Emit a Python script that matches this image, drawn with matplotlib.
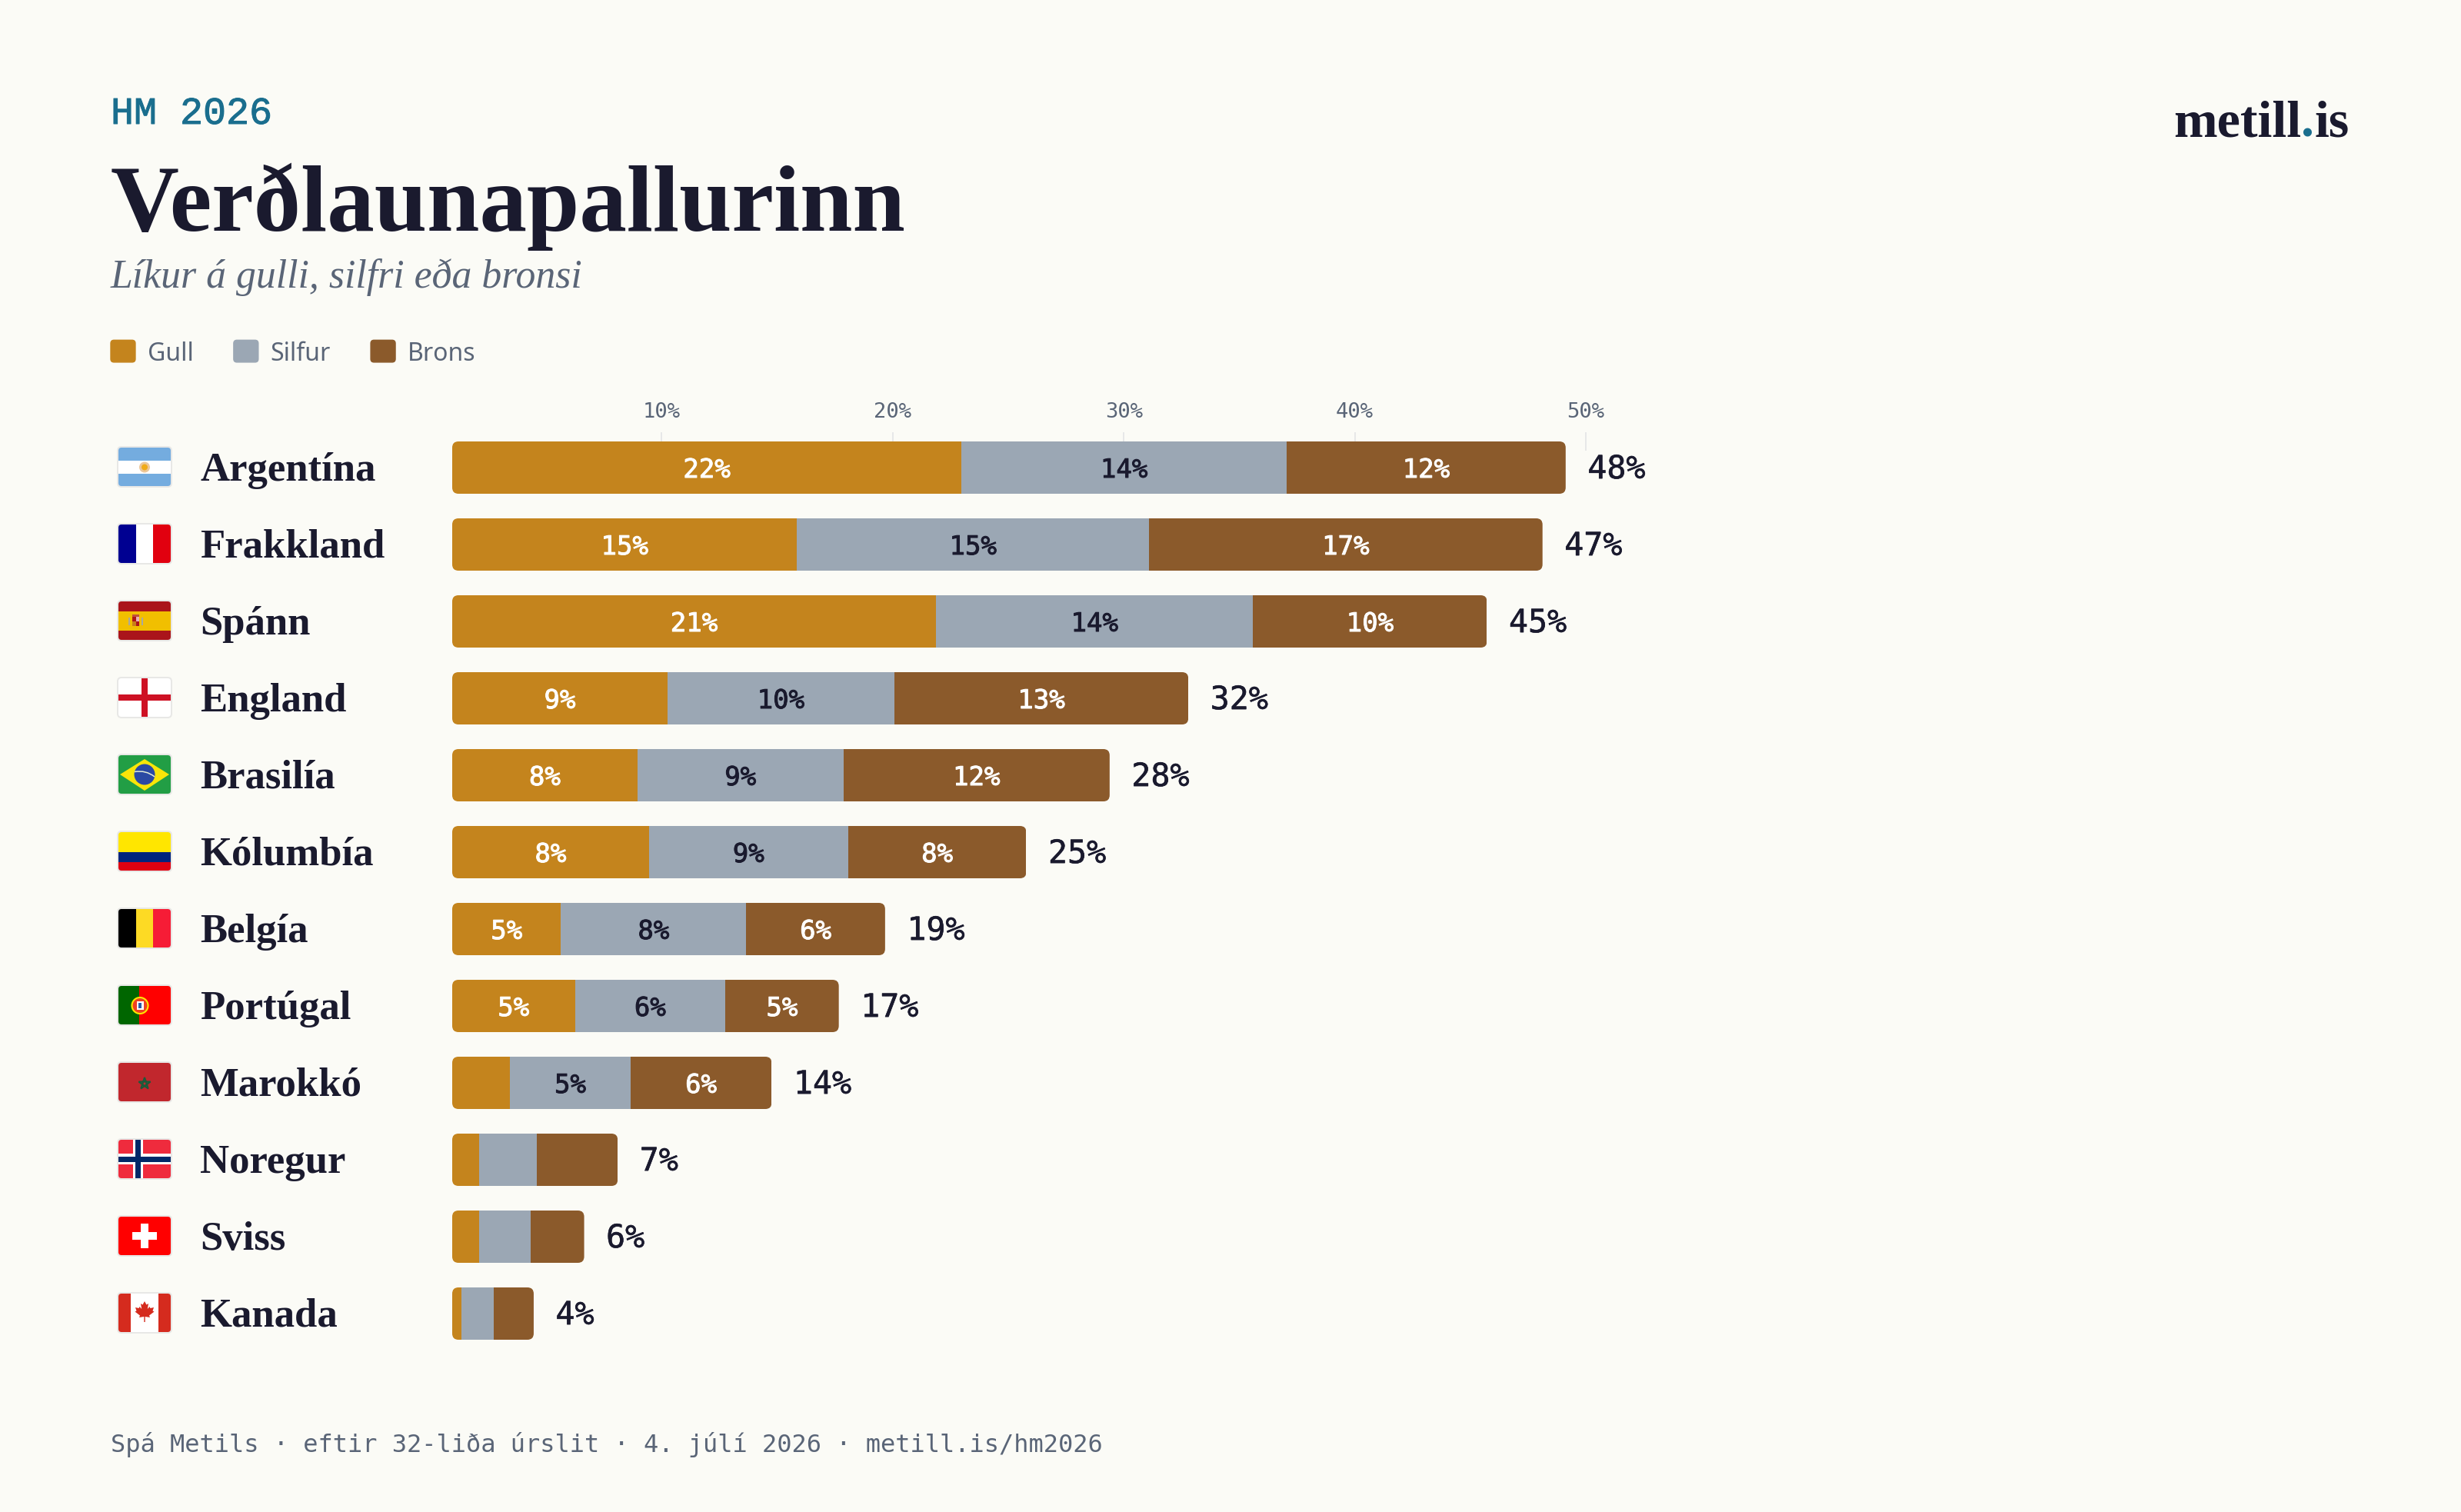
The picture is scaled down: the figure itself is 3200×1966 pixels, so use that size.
import numpy as np
import matplotlib
matplotlib.use('Agg')
import matplotlib.pyplot as plt
import matplotlib.patheffects as pe
from matplotlib.legend_handler import HandlerPatch
from matplotlib.patches import Circle, FancyBboxPatch, Patch, PathPatch, Polygon, Rectangle
from matplotlib.path import Path
from matplotlib.transforms import ScaledTranslation

W, H = 3200, 1966

countries = ['Argentína', 'Frakkland', 'Spánn', 'England', 'Brasilía', 'Kólumbía',
             'Belgía', 'Portúgal', 'Marokkó', 'Noregur', 'Sviss', 'Kanada']
flag_codes = ['ar', 'fr', 'es', 'en', 'br', 'co', 'be', 'pt', 'ma', 'no', 'ch', 'ca']
gold = [22.0, 14.9, 20.9, 9.3, 8.0, 8.5, 4.7, 5.3, 2.5, 1.15, 1.15, 0.4]
silver = [14.05, 15.2, 13.7, 9.8, 8.9, 8.6, 8.0, 6.5, 5.2, 2.5, 2.25, 1.4]
bronze = [12.05, 17.0, 10.1, 12.7, 11.5, 7.7, 6.0, 4.9, 6.1, 3.5, 2.3, 1.72]
axis_ticks = [10, 20, 30, 40, 50]
series_names = ['Gull', 'Silfur', 'Brons']

BG = '#fbfbf6'
DARK = '#1a1a2e'
SLATE = '#5a6577'
TEAL = '#1a6e8e'
GOLD = '#c4841d'
SILVER = '#9ba7b4'
BRONZE = '#8b5a2b'
GRID = '#e3e5e6'

SERIF = 'Liberation Serif'
MONO = 'DejaVu Sans Mono'


def px_rect(left, top, width, height):
    return [left / W, 1 - (top + height) / H, width / W, height / H]


def medium(colour, width=0.7):
    # the mono family has no medium weight, thicken the regular one a little
    return [pe.withStroke(linewidth=width, foreground=colour)]


fig = plt.figure(figsize=(W / 100, H / 100), dpi=100, facecolor=BG)

# page axes in pixels, for headings and flag frames
page = fig.add_axes([0, 0, 1, 1], zorder=0)
page.set_xlim(0, W)
page.set_ylim(H, 0)
page.axis('off')

page.text(144, 161, 'HM 2026', family='Liberation Mono', size=36, color=TEAL, va='baseline',
          path_effects=medium(TEAL))
page.text(144, 300, 'Verðlaunapallurinn', family=SERIF, weight='bold', size=88.6, color=DARK, va='baseline')
page.text(144, 374, 'Líkur á gulli, silfri eða bronsi', family=SERIF, style='italic', size=37.3,
          color=SLATE, va='baseline')
page.text(144, 1888, 'Spá Metils · eftir 32-liða úrslit · 4. júlí 2026 · metill.is/hm2026',
          family=MONO, size=23, color=SLATE, va='baseline')

# logo, the dot has its own colour
logo = page.text(2826, 177, 'metill', family=SERIF, weight='bold', size=49, color=DARK, va='baseline')
dot = page.annotate('.', xy=(1, 0), xycoords=logo, family=SERIF, weight='bold', size=49, color=TEAL, va='bottom')
page.annotate('is', xy=(1, 0), xycoords=dot, family=SERIF, weight='bold', size=49, color=DARK, va='bottom')


def round_handle(legend, orig_handle, xdescent, ydescent, width, height, fontsize):
    return FancyBboxPatch((0, -1.2), width, height, boxstyle='round,pad=0,rounding_size=3')


fig.legend(handles=[Patch(color=c) for c in (GOLD, SILVER, BRONZE)], labels=series_names,
           handler_map={Patch: HandlerPatch(patch_func=round_handle)},
           loc='upper left', bbox_to_anchor=(144 / W, 1 - 444 / H), ncol=3, frameon=False,
           prop={'family': 'Noto Sans', 'size': 23}, labelcolor=SLATE,
           handlelength=1, handleheight=1, handletextpad=0.5, columnspacing=1.63,
           borderpad=0, borderaxespad=0)

# percent scale above the bars
scale = fig.add_axes(px_rect(560, 562, 1700, 24), zorder=1)
scale.set_xlim(0, 1700 / 30.04)
scale.patch.set_visible(False)
for s in scale.spines.values():
    s.set_visible(False)
scale.set_yticks([])
scale.xaxis.tick_top()
scale.set_xticks(axis_ticks)
scale.set_xticklabels([f'{t}%' for t in axis_ticks], family=MONO, size=19.5, color=SLATE)
scale.tick_params(axis='x', direction='in', length=17.3, width=1.2, color=GRID, pad=9)

# stacked bars
ax = fig.add_axes(px_rect(588, 558, 2400, 1200), zorder=2)
ax.set_xlim(0, 2400 / 30.1)
ax.set_ylim(11.5, -0.5)
ax.patch.set_visible(False)
for s in ax.spines.values():
    s.set_visible(False)
ax.set_xticks([])

rows = np.arange(len(countries))
gold_v = np.array(gold)
silver_v = np.array(silver)
bronze_v = np.array(bronze)
totals = gold_v + silver_v + bronze_v
bar_height = 0.68

outlines = [FancyBboxPatch((0, r - bar_height / 2), t, bar_height,
                           boxstyle='round,pad=0,rounding_size=0.27',
                           mutation_aspect=30.1 / 100, transform=ax.transData)
            for r, t in zip(rows, totals)]

lefts = [np.zeros(len(rows)), gold_v, gold_v + silver_v]
for vals, left, col, txt in zip((gold_v, silver_v, bronze_v), lefts, (GOLD, SILVER, BRONZE),
                                ('white', DARK, 'white')):
    bars = ax.barh(rows, vals, left=left, height=bar_height, color=col, linewidth=0)
    for rect, outline in zip(bars, outlines):
        rect.set_clip_path(outline)
    seg_labels = ax.bar_label(bars, labels=[f'{v:.0f}%' if v >= 4 else '' for v in vals],
                              label_type='center', family=MONO, size=24.5, color=txt,
                              path_effects=medium(txt))
    for lab in seg_labels:
        lab.set_verticalalignment('center_baseline')

for r, t in zip(rows, totals):
    ax.annotate(f'{t:.0f}%', (t, r), xytext=(20.5, -1.5), textcoords='offset points',
                family=MONO, size=30, color=DARK, va='center', path_effects=medium(DARK, 0.4))

ax.set_yticks(rows)
ax.set_yticklabels(countries, family=SERIF, weight='bold', size=38, color=DARK, ha='left')
ax.tick_params(axis='y', length=0, pad=236)
for lab in ax.get_yticklabels():
    lab.set_transform(lab.get_transform() + ScaledTranslation(0, 2 / 100, fig.dpi_scale_trans))


# flags, each drawn on a 68 by 50 axes
def hbands(fl, colours, weights):
    y = 0
    for c, w in zip(colours, weights):
        fl.add_patch(Rectangle((0, y), 68, w, color=c, lw=0))
        y += w


def vbands(fl, colours, weights):
    x = 0
    for c, w in zip(colours, weights):
        fl.add_patch(Rectangle((x, 0), w, 50, color=c, lw=0))
        x += w


def flag_ar(fl):
    hbands(fl, ['#74acdf', 'white', '#74acdf'], [16.5, 17, 16.5])
    fl.add_patch(Circle((34, 25.5), 7, color='#ecc79a', lw=0))
    fl.add_patch(Circle((34, 25.5), 4, color='#f0ab1a', lw=0))


def flag_es(fl):
    hbands(fl, ['#aa151b', '#f1bf00', '#aa151b'], [12.5, 25, 12.5])
    fl.add_patch(Rectangle((13, 21), 2, 10, color='#a8a8a0', lw=0))
    fl.add_patch(Rectangle((30, 21), 2, 10, color='#a8a8a0', lw=0))
    fl.add_patch(Rectangle((18, 20), 5, 6, color='#ad1519', lw=0))
    fl.add_patch(Rectangle((23, 20), 4, 6, color='#e8b0b8', lw=0))
    fl.add_patch(Rectangle((18, 26), 5, 6, color='#c8801a', lw=0))
    fl.add_patch(Rectangle((23, 26), 4, 6, color='#ad1519', lw=0))
    fl.add_patch(Rectangle((18, 16.5), 9, 3, color='#c0503a', lw=0))


def flag_en(fl):
    fl.add_patch(Rectangle((0, 0), 68, 50, color='white', lw=0))
    fl.add_patch(Rectangle((30, 0), 8, 50, color='#ce1124', lw=0))
    fl.add_patch(Rectangle((0, 21), 68, 8, color='#ce1124', lw=0))


def flag_br(fl):
    fl.add_patch(Rectangle((0, 0), 68, 50, color='#229e45', lw=0))
    fl.add_patch(Polygon([(2, 25), (34, 5), (66, 25), (34, 46)], color='#f8e509', lw=0))
    fl.add_patch(Circle((34, 25), 13.5, color='#2b49a3', lw=0))
    fl.add_patch(PathPatch(Path([(21, 21.5), (36, 19), (47, 28)],
                                [Path.MOVETO, Path.CURVE3, Path.CURVE3]),
                           fc='none', ec='#e3ecd8', lw=1.1))


def flag_pt(fl):
    vbands(fl, ['#006600', '#ff0000'], [27.2, 40.8])
    fl.add_patch(Circle((28, 25.5), 10.5, fc='#f04020', ec='#ffe600', lw=1.5))
    fl.add_patch(Rectangle((23.5, 20), 9, 11, color='white', lw=0))
    fl.add_patch(Rectangle((26, 22), 4, 7, color='#2a5ba8', lw=0))


def flag_ma(fl):
    fl.add_patch(Rectangle((0, 0), 68, 50, color='#c1272d', lw=0))
    ang = np.radians(-90 + 144 * np.arange(5))
    pts = np.column_stack([34 + 8 * np.cos(ang), 27 + 8 * np.sin(ang)])
    fl.add_patch(Polygon(pts, closed=True, fill=False, ec='#1c5a3a', lw=1.5))


def flag_no(fl):
    fl.add_patch(Rectangle((0, 0), 68, 50, color='#ef2b3d', lw=0))
    fl.add_patch(Rectangle((18.7, 0), 13.3, 50, color='white', lw=0))
    fl.add_patch(Rectangle((0, 18), 68, 14, color='white', lw=0))
    fl.add_patch(Rectangle((22, 0), 7, 50, color='#002868', lw=0))
    fl.add_patch(Rectangle((0, 22), 68, 6.5, color='#002868', lw=0))


def flag_ch(fl):
    fl.add_patch(Rectangle((0, 0), 68, 50, color='#ff0000', lw=0))
    fl.add_patch(Rectangle((29, 9), 10, 32, color='white', lw=0))
    fl.add_patch(Rectangle((18, 20), 32, 10, color='white', lw=0))


def flag_ca(fl):
    vbands(fl, ['#d52b1e', 'white', '#d52b1e'], [16, 36, 16])
    half = [(0, -14), (-2.5, -9.5), (-5, -11), (-3.8, -4), (-6.5, -7), (-7.5, -5), (-12, -6),
            (-10.5, -1.5), (-12.5, -0.5), (-6, 4.5), (-7, 7), (-0.7, 6), (-0.7, 13)]
    leaf = half + [(-x, y) for x, y in reversed(half[1:])]
    fl.add_patch(Polygon([(34 + x, 24 + y) for x, y in leaf], color='#d52b1e', lw=0))


flag_funcs = {
    'ar': flag_ar,
    'fr': lambda fl: vbands(fl, ['#000091', 'white', '#e1000f'], [22.7, 22.6, 22.7]),
    'es': flag_es,
    'en': flag_en,
    'br': flag_br,
    'co': lambda fl: hbands(fl, ['#ffe600', '#00247d', '#de0011'], [26, 12.5, 11.5]),
    'be': lambda fl: vbands(fl, ['#000000', '#fdda24', '#f61c36'], [22.7, 22.6, 22.7]),
    'pt': flag_pt,
    'ma': flag_ma,
    'no': flag_no,
    'ch': flag_ch,
    'ca': flag_ca,
}

for i, code in enumerate(flag_codes):
    top = 582 + 100 * i
    page.add_patch(FancyBboxPatch((152, top - 2), 72, 54, boxstyle='round,pad=0,rounding_size=6',
                                  fc='#e8e8e6', ec='none'))
    fl = fig.add_axes(px_rect(154, top, 68, 50), zorder=1)
    fl.set_xlim(0, 68)
    fl.set_ylim(50, 0)
    fl.axis('off')
    flag_funcs[code](fl)
    corner = FancyBboxPatch((0, 0), 68, 50, boxstyle='round,pad=0,rounding_size=4', transform=fl.transData)
    for p in fl.patches:
        p.set_clip_path(corner)

fig.savefig('out.png', dpi=100, facecolor=BG)
